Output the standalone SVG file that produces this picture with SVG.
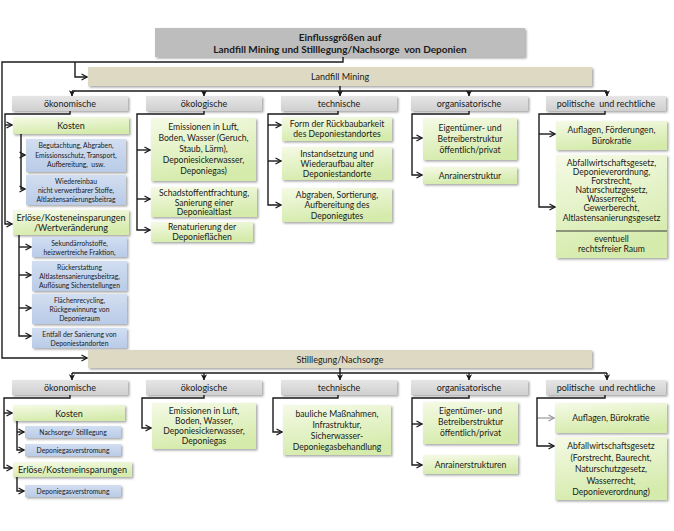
<svg xmlns="http://www.w3.org/2000/svg" width="674" height="531" viewBox="0 0 674 531">
<defs>
<linearGradient id="gGreen" x1="0" y1="0" x2="0.3" y2="1"><stop offset="0" stop-color="#f5fae6"/><stop offset="1" stop-color="#d5ebac"/></linearGradient>
<linearGradient id="gBlue" x1="0" y1="0" x2="0" y2="1"><stop offset="0" stop-color="#d2def1"/><stop offset="1" stop-color="#b9cbe7"/></linearGradient>
<linearGradient id="gGray" x1="0" y1="0" x2="0" y2="1"><stop offset="0" stop-color="#e6e6e6"/><stop offset="1" stop-color="#cfcfcf"/></linearGradient>
<filter id="sh" x="-10%" y="-20%" width="130%" height="160%"><feDropShadow dx="1.5" dy="1.5" stdDeviation="1" flood-color="#000" flood-opacity="0.35"/></filter>
<marker id="ah" viewBox="0 0 8 8" refX="7" refY="4" markerWidth="8" markerHeight="8" markerUnits="userSpaceOnUse" orient="auto"><path d="M1.5,1 L7,4 L1.5,7" fill="none" stroke="#1a1a1a" stroke-width="1.2"/></marker>
<marker id="ahg" viewBox="0 0 8 8" refX="7" refY="4" markerWidth="8" markerHeight="8" markerUnits="userSpaceOnUse" orient="auto"><path d="M1.5,1 L7,4 L1.5,7" fill="none" stroke="#9a9a9a" stroke-width="1.2"/></marker>
<marker id="ad" viewBox="0 0 8 8" refX="7" refY="4" markerWidth="7" markerHeight="7" markerUnits="userSpaceOnUse" orient="auto"><path d="M0.5,0.5 L7.5,4 L0.5,7.5 L2.5,4 Z" fill="#1a1a1a"/></marker>
</defs>
<style>
.ln{fill:none;stroke:#1a1a1a;stroke-width:1.4}
.a{marker-end:url(#ah)}
.d{marker-end:url(#ad)}
.g{fill:none;stroke:#9a9a9a;stroke-width:1.2;marker-end:url(#ahg)}
.t{font-family:Lato,"Liberation Sans",sans-serif;fill:#1a1a1a;text-anchor:middle}
.tb{font-family:Lato,"Liberation Sans",sans-serif;fill:#1a1a1a;text-anchor:middle;font-weight:bold;font-size:10px}
.f9{font-size:9px}
.f85{font-size:8.6px}
.f7{font-size:6.8px}
.cat{fill:url(#gGray);filter:url(#sh)}
.grn{fill:url(#gGreen);filter:url(#sh)}
.blu{fill:url(#gBlue);filter:url(#sh)}
.bar{fill:#ddd9c3;filter:url(#sh)}
.ttl{fill:#bdbdbd;filter:url(#sh)}
</style>
<rect width="674" height="531" fill="#ffffff"/>

<g id="connectors">
<path class="ln a" d="M343,57 V62 H2 V358 H87"/>
<path class="ln a" d="M75,62 V77 H87"/>
<path class="ln" d="M340,86 V91 M72,91 H607"/>
<path class="ln d" d="M72,91 V96"/><path class="ln d" d="M204,91 V96"/><path class="ln d" d="M340,91 V96"/><path class="ln d" d="M469,91 V96"/><path class="ln d" d="M607,91 V96"/>
<path class="ln a" d="M70,111 V114 H5 V224 H12"/><path class="ln a" d="M5,125 H12"/>
<path class="ln a" d="M21,134 V189 H25"/><path class="ln a" d="M21,155 H25"/>
<path class="ln a" d="M19,235 V336 H31"/><path class="ln a" d="M19,247 H31"/><path class="ln a" d="M19,275 H31"/><path class="ln a" d="M19,308 H31"/>
<path class="ln a" d="M204,111 V114 H137 V230 H150"/><path class="ln a" d="M137,150 H150"/><path class="ln a" d="M137,199 H150"/>
<path class="ln a" d="M338,111 V114 H268 V205 H281"/><path class="ln a" d="M268,125 H281"/><path class="ln a" d="M268,161 H281"/>
<path class="ln a" d="M469,111 V114 H412 V175 H422"/><path class="ln a" d="M412,138 H422"/>
<path class="ln a" d="M605,111 V114 H539 V207 H555"/><path class="ln a" d="M539,134 H555"/>
<path class="ln" d="M340,368 V373 M72,373 H607"/>
<path class="ln d" d="M72,373 V380"/><path class="ln d" d="M204,373 V380"/><path class="ln d" d="M340,373 V380"/><path class="ln d" d="M469,373 V380"/><path class="ln d" d="M607,373 V380"/>
<path class="ln a" d="M70,395 V398 H4 V468 H12"/><path class="ln a" d="M4,413 H12"/>
<path class="ln a" d="M17,421 V450 H24"/><path class="ln a" d="M17,432 H24"/>
<path class="ln a" d="M17,477 V491 H24"/>
<path class="ln a" d="M204,395 V398 H142 V428 H151"/>
<path class="ln a" d="M338,395 V398 H273 V432 H282"/>
<path class="ln a" d="M469,395 V398 H412 V465 H422"/><path class="ln a" d="M412,424 H422"/>
<path class="g" d="M537,418 H554"/>
<path class="ln a" d="M605,395 V398 H537 V446 H554"/>
</g>

<g id="title"><rect class="ttl" x="155" y="28" width="370" height="29"/>
<text class="tb"><tspan x="340" y="41">Einflussgrößen auf</tspan><tspan x="340" y="53">Landfill Mining und Stilllegung/Nachsorge&#160; von Deponien</tspan></text></g>

<g id="landfill-mining"><rect class="bar" x="88" y="67" width="504" height="19"/><text class="t f9" x="340" y="80">Landfill Mining</text></g>

<g id="lm-oekonomische"><rect class="cat" x="12" y="96" width="116" height="15"/><text class="t f9" x="70" y="107">ökonomische</text></g>
<g id="lm-oekologische"><rect class="cat" x="146" y="96" width="116" height="15"/><text class="t f9" x="204" y="107">ökologische</text></g>
<g id="lm-technische"><rect class="cat" x="281" y="96" width="116" height="15"/><text class="t f9" x="339" y="107">technische</text></g>
<g id="lm-organisatorische"><rect class="cat" x="411" y="96" width="117" height="15"/><text class="t f9" x="469" y="107">organisatorische</text></g>
<g id="lm-politische"><rect class="cat" x="546" y="96" width="120" height="15"/><text class="t f9" x="606" y="107">politische&#160; und rechtliche</text></g>

<g id="lm-kosten"><rect class="grn" x="13" y="117" width="116" height="17"/><text class="t f9" x="71" y="129">Kosten</text></g>
<g id="lm-kosten-1"><rect class="blu" x="26" y="139" width="100" height="33"/><text class="t f7"><tspan x="76" y="148">Begutachtung, Abgraben,</tspan><tspan x="76" y="157.5">Emissionsschutz, Transport,</tspan><tspan x="76" y="167">Aufbereitung,&#160; usw.</tspan></text></g>
<g id="lm-kosten-2"><rect class="blu" x="26" y="175" width="100" height="30"/><text class="t f7"><tspan x="76" y="183.5">Wiedereinbau</tspan><tspan x="76" y="193">nicht verwertbarer Stoffe,</tspan><tspan x="76" y="202">Altlastensanierungsbeitrag</tspan></text></g>
<g id="lm-erloese"><rect class="grn" x="13" y="210" width="116" height="25"/><text class="t f9"><tspan x="71" y="220.5">Erlöse/Kosteneinsparungen</tspan><tspan x="71" y="231">/Wertveränderung</tspan></text></g>
<g id="lm-erloese-1"><rect class="blu" x="32" y="237" width="95" height="20"/><text class="t f7"><tspan x="79.5" y="245.5">Sekundärrohstoffe,</tspan><tspan x="79.5" y="254.5">heizwertreiche Fraktion,</tspan></text></g>
<g id="lm-erloese-2"><rect class="blu" x="32" y="261" width="95" height="30"/><text class="t f7"><tspan x="79.5" y="269.5">Rückerstattung</tspan><tspan x="79.5" y="278.5">Altlastensanierungsbeitrag,</tspan><tspan x="79.5" y="287.5">Auflösung Sicherstellungen</tspan></text></g>
<g id="lm-erloese-3"><rect class="blu" x="32" y="294" width="95" height="30"/><text class="t f7"><tspan x="79.5" y="302.5">Flächenrecycling,</tspan><tspan x="79.5" y="311.5">Rückgewinnung von</tspan><tspan x="79.5" y="320.5">Deponieraum</tspan></text></g>
<g id="lm-erloese-4"><rect class="blu" x="32" y="328" width="95" height="20"/><text class="t f7"><tspan x="79.5" y="336.5">Entfall der Sanierung von</tspan><tspan x="79.5" y="345.5">Deponiestandorten</tspan></text></g>

<g id="lm-oeko-1"><rect class="grn" x="151" y="118" width="105" height="63"/><text class="t f85"><tspan x="203.5" y="130">Emissionen in Luft,</tspan><tspan x="203.5" y="141">Boden, Wasser (Geruch,</tspan><tspan x="203.5" y="152">Staub, Lärm),</tspan><tspan x="203.5" y="163">Deponiesickerwasser,</tspan><tspan x="203.5" y="174">Deponiegas)</tspan></text></g>
<g id="lm-oeko-2"><rect class="grn" x="151" y="187" width="106" height="30"/><text class="t f85"><tspan x="204" y="196">Schadstoffentfrachtung,</tspan><tspan x="204" y="205.5">Sanierung einer</tspan><tspan x="204" y="215">Deponiealtlast</tspan></text></g>
<g id="lm-oeko-3"><rect class="grn" x="151" y="222" width="102" height="20"/><text class="t f85"><tspan x="202" y="230">Renaturierung der</tspan><tspan x="202" y="239.5">Deponieflächen</tspan></text></g>

<g id="lm-tech-1"><rect class="grn" x="282" y="117" width="110" height="24"/><text class="t f85"><tspan x="337" y="127">Form der Rückbaubarkeit</tspan><tspan x="337" y="137">des Deponiestandortes</tspan></text></g>
<g id="lm-tech-2"><rect class="grn" x="282" y="147" width="110" height="33"/><text class="t f85"><tspan x="337" y="157">Instandsetzung und</tspan><tspan x="337" y="167">Wiederaufbau alter</tspan><tspan x="337" y="177">Deponiestandorte</tspan></text></g>
<g id="lm-tech-3"><rect class="grn" x="282" y="188" width="110" height="34"/><text class="t f85"><tspan x="337" y="198">Abgraben, Sortierung,</tspan><tspan x="337" y="208">Aufbereitung des</tspan><tspan x="337" y="218.5">Deponiegutes</tspan></text></g>

<g id="lm-org-1"><rect class="grn" x="423" y="118" width="94" height="42"/><text class="t f85"><tspan x="470" y="131">Eigentümer- und</tspan><tspan x="470" y="142">Betreiberstruktur</tspan><tspan x="470" y="153">öffentlich/privat</tspan></text></g>
<g id="lm-org-2"><rect class="grn" x="423" y="167" width="94" height="17"/><text class="t f85" x="470" y="178.5">Anrainerstruktur</text></g>

<g id="lm-pol-1"><rect class="grn" x="556" y="121" width="111" height="29"/><text class="t f85"><tspan x="611.5" y="133">Auflagen, Förderungen,</tspan><tspan x="611.5" y="144">Bürokratie</tspan></text></g>
<g id="lm-pol-2"><rect class="grn" x="556" y="155" width="111" height="103"/><text class="t f85"><tspan x="611.5" y="166">Abfallwirtschaftsgesetz,</tspan><tspan x="611.5" y="175">Deponieverordnung,</tspan><tspan x="611.5" y="184">Forstrecht,</tspan><tspan x="611.5" y="193">Naturschutzgesetz,</tspan><tspan x="611.5" y="202">Wasserrecht,</tspan><tspan x="611.5" y="211">Gewerberecht,</tspan><tspan x="611.5" y="220.5">Altlastensanierungsgesetz</tspan><tspan x="611.5" y="242">eventuell</tspan><tspan x="611.5" y="252">rechtsfreier Raum</tspan></text>
<line x1="556" y1="231" x2="667" y2="231" stroke="#3a3a3a" stroke-width="1.2"/></g>

<g id="stilllegung"><rect class="bar" x="88" y="350" width="504" height="18"/><text class="t f9" x="340" y="362.5">Stilllegung/Nachsorge</text></g>

<g id="sn-oekonomische"><rect class="cat" x="12" y="380" width="116" height="15"/><text class="t f9" x="70" y="391">ökonomische</text></g>
<g id="sn-oekologische"><rect class="cat" x="146" y="380" width="116" height="15"/><text class="t f9" x="204" y="391">ökologische</text></g>
<g id="sn-technische"><rect class="cat" x="281" y="380" width="116" height="15"/><text class="t f9" x="339" y="391">technische</text></g>
<g id="sn-organisatorische"><rect class="cat" x="411" y="380" width="117" height="15"/><text class="t f9" x="469" y="391">organisatorische</text></g>
<g id="sn-politische"><rect class="cat" x="546" y="380" width="120" height="15"/><text class="t f9" x="606" y="391">politische&#160; und rechtliche</text></g>

<g id="sn-kosten"><rect class="grn" x="13" y="405" width="112" height="16"/><text class="t f9" x="69" y="416.5">Kosten</text></g>
<g id="sn-kosten-1"><rect class="blu" x="25" y="426" width="96" height="12"/><text class="t f7" x="73" y="434.5">Nachsorge/ Stilllegung</text></g>
<g id="sn-kosten-2"><rect class="blu" x="25" y="444" width="96" height="12"/><text class="t f7" x="73" y="452.5">Deponiegasverstromung</text></g>
<g id="sn-erloese"><rect class="grn" x="13" y="462" width="119" height="15"/><text class="t f9" x="72.5" y="473">Erlöse/Kosteneinsparungen</text></g>
<g id="sn-erloese-1"><rect class="blu" x="25" y="485" width="96" height="12"/><text class="t f7" x="73" y="493.5">Deponiegasverstromung</text></g>

<g id="sn-oeko-1"><rect class="grn" x="152" y="403" width="104" height="46"/><text class="t f85"><tspan x="204" y="414">Emissionen in Luft,</tspan><tspan x="204" y="424">Boden, Wasser,</tspan><tspan x="204" y="434">Deponiesickerwasser,</tspan><tspan x="204" y="444">Deponiegas</tspan></text></g>
<g id="sn-tech-1"><rect class="grn" x="283" y="405" width="108" height="50"/><text class="t f85"><tspan x="337" y="417">bauliche Maßnahmen,</tspan><tspan x="337" y="428">Infrastruktur,</tspan><tspan x="337" y="439">Sicherwasser-</tspan><tspan x="337" y="450">Deponiegasbehandlung</tspan></text></g>
<g id="sn-org-1"><rect class="grn" x="423" y="402" width="95" height="42"/><text class="t f85"><tspan x="470.5" y="414">Eigentümer- und</tspan><tspan x="470.5" y="425">Betreiberstruktur</tspan><tspan x="470.5" y="436">öffentlich/privat</tspan></text></g>
<g id="sn-org-2"><rect class="grn" x="423" y="455" width="95" height="19"/><text class="t f85" x="470.5" y="467.5">Anrainerstrukturen</text></g>
<g id="sn-pol-1"><rect class="grn" x="555" y="403" width="112" height="30"/><text class="t f85" x="611" y="421">Auflagen, Bürokratie</text></g>
<g id="sn-pol-2"><rect class="grn" x="555" y="437" width="112" height="63"/><text class="t f85"><tspan x="611" y="449">Abfallwirtschaftsgesetz</tspan><tspan x="611" y="460.5">(Forstrecht, Baurecht,</tspan><tspan x="611" y="472">Naturschutzgesetz,</tspan><tspan x="611" y="483.5">Wasserrecht,</tspan><tspan x="611" y="495">Deponieverordnung)</tspan></text></g>
</svg>
